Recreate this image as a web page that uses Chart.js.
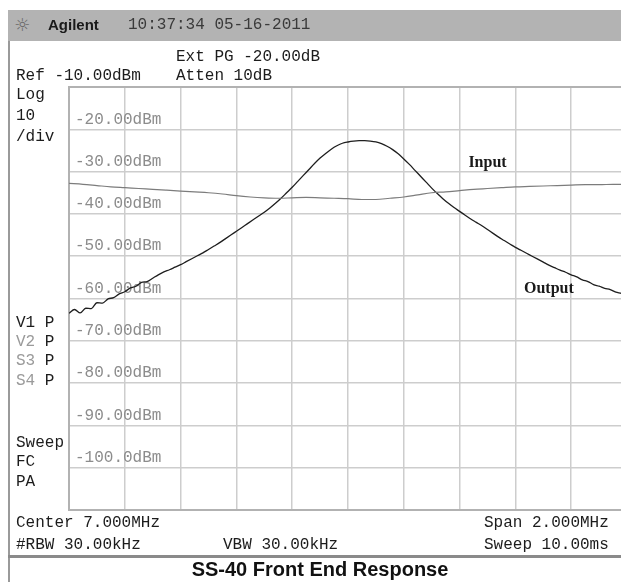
<!DOCTYPE html>
<html>
<head>
<meta charset="utf-8">
<title>SS-40 Front End Response</title>
<script src="https://cdn.jsdelivr.net/npm/chart.js@4.4.1/dist/chart.umd.min.js"></script>
<style>
  html, body { margin: 0; padding: 0; width: 621px; height: 582px; overflow: hidden; background: #fff; }
  #screen { position: relative; width: 621px; height: 582px; overflow: hidden; background: #fff; }
  #plot { position: absolute; left: 0; top: 0; }
  .bar { position: absolute; left: 8px; top: 10px; width: 613px; height: 31px; background: #b3b3b3; }
  .frame-left { position: absolute; left: 8px; top: 41px; width: 2px; height: 541px; background: #9a9a9a; }
  .sep { position: absolute; left: 8px; top: 555px; width: 613px; height: 3px; background: #8a8a8a; }
  .t { position: absolute; font-family: "Liberation Mono", "DejaVu Sans Mono", monospace; font-size: 16px;
       line-height: 20px; height: 20px; color: #1c1c1c; white-space: pre; }
  .dim { color: #9a9a9a; }
  .brand { font-family: "Liberation Sans", Arial, sans-serif; font-weight: bold; font-size: 15px; color: #1a1a1a; }
  .spark { font-family: "DejaVu Sans", sans-serif; font-size: 18px; color: #6a6a6a; }
  .clock { color: #3a3a3a; }
  .title { font-family: "Liberation Sans", Arial, sans-serif; font-weight: bold; font-size: 20px; line-height: 24px;
           height: 24px; color: #111; transform: translateX(-50%); }
</style>
</head>
<body>
<div id="screen">
  <canvas id="plot" width="640" height="582"></canvas>

  <div class="bar"></div>
  <div class="frame-left"></div>
  <div class="sep"></div>

  <div class="t spark" style="left:14px; top:15px;">☼</div>
  <div class="t brand" style="left:48px; top:15px;">Agilent</div>
  <div class="t clock" style="left:128px; top:15px;">10:37:34 05-16-2011</div>

  <div class="t" style="left:176px; top:47px;">Ext PG -20.00dB</div>
  <div class="t" style="left:16px; top:66px;">Ref -10.00dBm</div>
  <div class="t" style="left:176px; top:66px;">Atten 10dB</div>

  <div class="t" style="left:16px; top:85px;">Log</div>
  <div class="t" style="left:16px; top:106px;">10</div>
  <div class="t" style="left:16px; top:127px;">/div</div>

  <div class="t" style="left:16px; top:313px;">V1 P</div>
  <div class="t" style="left:16px; top:332px;"><span class="dim">V2</span> P</div>
  <div class="t" style="left:16px; top:351px;"><span class="dim">S3</span> P</div>
  <div class="t" style="left:16px; top:371px;"><span class="dim">S4</span> P</div>

  <div class="t" style="left:16px; top:433px;">Sweep</div>
  <div class="t" style="left:16px; top:452px;">FC</div>
  <div class="t" style="left:16px; top:472px;">PA</div>

  <div class="t" style="left:16px; top:513px;">Center 7.000MHz</div>
  <div class="t" style="left:16px; top:535px;">#RBW 30.00kHz</div>
  <div class="t" style="left:223px; top:535px;">VBW 30.00kHz</div>
  <div class="t" style="left:484px; top:513px;">Span 2.000MHz</div>
  <div class="t" style="left:484px; top:535px;">Sweep 10.00ms</div>

  <div class="t title" style="left:320px; top:557px;">SS-40 Front End Response</div>
</div>

<script>
// Sweep: 6.000 – 8.000 MHz (center 7.000 MHz, span 2.000 MHz), ref level -10 dBm, 10 dB/div.

// Output trace (filter response), frequency in MHz and level in dBm
const outputFreqMHz = [
  6.00, 6.02, 6.04, 6.06, 6.08, 6.10, 6.12, 6.14, 6.16, 6.18,
  6.20, 6.22, 6.24, 6.26, 6.28, 6.30, 6.32, 6.34, 6.36, 6.38,
  6.40, 6.42, 6.44, 6.46, 6.48, 6.50, 6.52, 6.54, 6.56, 6.58,
  6.60, 6.62, 6.64, 6.66, 6.68, 6.70, 6.72, 6.74, 6.76, 6.78,
  6.80, 6.82, 6.84, 6.86, 6.88, 6.90, 6.92, 6.94, 6.96, 6.98,
  7.00, 7.02, 7.04, 7.06, 7.08, 7.10, 7.12, 7.14, 7.16, 7.18,
  7.20, 7.22, 7.24, 7.26, 7.28, 7.30, 7.32, 7.34, 7.36, 7.38,
  7.40, 7.42, 7.44, 7.46, 7.48, 7.50, 7.52, 7.54, 7.56, 7.58,
  7.60, 7.62, 7.64, 7.66, 7.68, 7.70, 7.72, 7.74, 7.76, 7.78,
  7.80, 7.82, 7.84, 7.86, 7.88, 7.90, 7.92, 7.94, 7.96, 7.98, 8.00
];
const outputDbm = [
  -63.5, -62.6, -63.4, -62.3, -62.4, -61.0, -61.1, -60.1, -59.8, -58.9,
  -58.4, -57.5, -57.1, -56.2, -56.0, -55.2, -54.4, -53.7, -53.2, -52.6,
  -52.0, -51.3, -50.6, -49.9, -49.2, -48.4, -47.6, -46.8, -45.9, -45.0,
  -44.1, -43.2, -42.3, -41.4, -40.5, -39.6, -38.6, -37.5, -36.3, -35.0,
  -33.7, -32.3, -30.9, -29.5, -28.1, -26.8, -25.7, -24.7, -23.9, -23.3,
  -23.0, -22.8, -22.7, -22.7, -22.8, -23.0, -23.4, -24.0, -24.8, -25.8,
  -27.0, -28.3, -29.7, -31.1, -32.5, -33.9, -35.2, -36.4, -37.5, -38.5,
  -39.4, -40.3, -41.2, -42.0, -42.8, -43.7, -44.6, -45.5, -46.3, -47.1,
  -47.9, -48.6, -49.3, -50.0, -50.7, -51.4, -52.1, -52.7, -53.3, -53.8,
  -54.4, -54.9, -55.6, -56.0, -56.7, -57.1, -57.6, -57.9, -58.5, -58.8, -59.3
];

// Input trace (generator level into the front end)
const inputFreqMHz = [
  6.00, 6.05, 6.10, 6.15, 6.20, 6.25, 6.30, 6.35, 6.40, 6.45,
  6.50, 6.55, 6.60, 6.65, 6.70, 6.75, 6.80, 6.85, 6.90, 6.95,
  7.00, 7.05, 7.10, 7.15, 7.20, 7.25, 7.30, 7.35, 7.40, 7.45,
  7.50, 7.55, 7.60, 7.65, 7.70, 7.75, 7.80, 7.85, 7.90, 7.95, 8.00
];
const inputDbm = [
  -32.8, -33.0, -33.3, -33.6, -33.8, -34.0, -34.2, -34.4, -34.6, -34.8,
  -35.0, -35.3, -35.7, -36.0, -36.2, -36.3, -36.2, -36.1, -36.2, -36.3,
  -36.4, -36.6, -36.6, -36.3, -36.0, -35.5, -35.0, -34.8, -34.5, -34.2,
  -34.0, -33.8, -33.6, -33.5, -33.4, -33.3, -33.2, -33.1, -33.1, -33.0, -33.0
];

// Amplitude graticule: one division per 10 dB, labelled from -20 to -100 dBm
const levelTicks  = [-10, -20, -30, -40, -50, -60, -70, -80, -90, -100, -110];
const levelLabels = ['', '-20.00dBm', '-30.00dBm', '-40.00dBm', '-50.00dBm', '-60.00dBm',
                     '-70.00dBm', '-80.00dBm', '-90.00dBm', '-100.0dBm', ''];

// Trace names written beside the curves, with where each sits (MHz, dBm)
const traceNames  = ['Input', 'Output'];
const nameFreqMHz = [7.50, 7.72];
const nameDbm     = [-28.0, -57.8];

const toPoints = (xs, ys) => xs.map((x, i) => ({ x: x, y: ys[i] }));

const gratColor = '#cdcdcd';
const edgeColor = '#b2b2b2';

const traceNamePlugin = {
  id: 'traceNames',
  afterDatasetsDraw(chart) {
    const { ctx, scales } = chart;
    ctx.save();
    ctx.font = 'bold 16px "Liberation Serif", "Times New Roman", serif';
    ctx.fillStyle = '#1a1a1a';
    ctx.textAlign = 'center';
    ctx.textBaseline = 'middle';
    traceNames.forEach((name, i) => {
      ctx.fillText(name, scales.x.getPixelForValue(nameFreqMHz[i]), scales.y.getPixelForValue(nameDbm[i]));
    });
    ctx.restore();
  }
};

new Chart(document.getElementById('plot'), {
  type: 'line',
  data: {
    datasets: [
      {
        label: 'Input',
        data: toPoints(inputFreqMHz, inputDbm),
        borderColor: '#7c7c7c',
        borderWidth: 1.2,
        pointRadius: 0,
        cubicInterpolationMode: 'monotone'
      },
      {
        label: 'Output',
        data: toPoints(outputFreqMHz, outputDbm),
        borderColor: '#1e1e1e',
        borderWidth: 1.3,
        pointRadius: 0,
        cubicInterpolationMode: 'monotone'
      }
    ]
  },
  options: {
    responsive: false,
    animation: false,
    devicePixelRatio: 1,
    layout: { padding: { left: 69, top: 87, right: 13, bottom: 72 } },
    plugins: {
      legend: { display: false },
      tooltip: { enabled: false }
    },
    scales: {
      x: {
        type: 'linear',
        min: 6,
        max: 8,
        afterFit: (s) => { s.height = 0; },
        ticks: { display: false, stepSize: 0.2 },
        grid: { color: gratColor, lineWidth: 1.5, drawTicks: false },
        border: { color: edgeColor, width: 2 }
      },
      y: {
        min: -110,
        max: -10,
        afterFit: (s) => { s.width = 0; },
        ticks: {
          stepSize: 10,
          mirror: true,
          padding: 6,
          labelOffset: -10,
          color: '#8c8c8c',
          font: { family: '"Liberation Mono", "DejaVu Sans Mono", monospace', size: 16 },
          callback: (v) => {
            const i = levelTicks.indexOf(Math.round(v));
            return i >= 0 ? levelLabels[i] : '';
          }
        },
        grid: {
          color: (c) => (c.tick && (c.tick.value === -10 || c.tick.value === -110)) ? edgeColor : gratColor,
          lineWidth: (c) => (c.tick && (c.tick.value === -10 || c.tick.value === -110)) ? 2 : 1.5,
          drawTicks: false
        },
        border: { color: edgeColor, width: 2 }
      }
    }
  },
  plugins: [traceNamePlugin]
});
</script>
</body>
</html>
